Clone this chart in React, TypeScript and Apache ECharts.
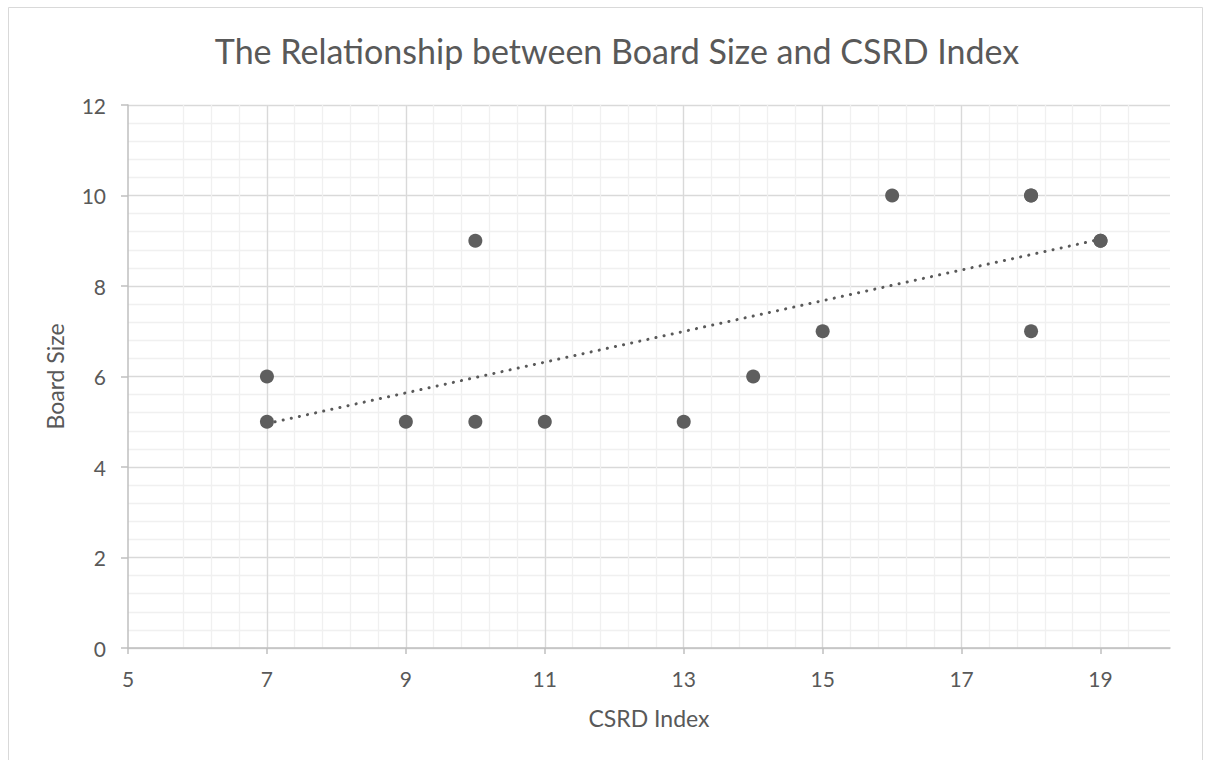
import React, { useEffect, useRef } from "react";
import * as echarts from "echarts";

const TITLE = "The Relationship between Board Size and CSRD Index";
const X_NAME = "CSRD Index";
const Y_NAME = "Board Size";
const csrdIndex = [7, 7, 9, 10, 10, 11, 13, 14, 15, 16, 18, 18, 18, 19, 19];
const boardSize = [6, 5, 5, 9, 5, 5, 5, 6, 7, 10, 10, 10, 7, 9, 9];
const xTicks = [5, 7, 9, 11, 13, 15, 17, 19];
const X_MIN = 5;
const X_MAX = 20;
const Y_MIN = 0;
const Y_MAX = 12;
const Y_STEP = 2;
const MINOR_STEP = 0.4;

function regression(xs: number[], ys: number[]) {
  const n = xs.length;
  const mx = xs.reduce((a, b) => a + b, 0) / n;
  const my = ys.reduce((a, b) => a + b, 0) / n;
  let sxy = 0;
  let sxx = 0;
  for (let i = 0; i < n; i++) {
    sxy += (xs[i] - mx) * (ys[i] - my);
    sxx += (xs[i] - mx) * (xs[i] - mx);
  }
  const slope = sxy / sxx;
  return { slope, intercept: my - slope * mx };
}

export default function App() {
  const ref = useRef<HTMLDivElement>(null);
  useEffect(() => {
    if (!ref.current) return;
    const chart = echarts.init(ref.current, null, { renderer: "svg" });
    const { slope, intercept } = regression(csrdIndex, boardSize);
    const lo = Math.min(...csrdIndex);
    const hi = Math.max(...csrdIndex);
    const trend = [
      [lo, intercept + slope * lo],
      [hi, intercept + slope * hi],
    ];
    const minorX: number[] = [];
    for (let k = 1; X_MIN + k * MINOR_STEP < X_MAX - 1e-6; k++) {
      const v = Math.round((X_MIN + k * MINOR_STEP) * 10) / 10;
      minorX.push(v);
    }
    const font = "Lato, 'Open Sans', sans-serif";
    const textColor = "#595959";
    chart.setOption({
      animation: false,
      backgroundColor: "#ffffff",
      title: {
        text: TITLE,
        left: 612,
        textAlign: "center",
        top: 28,
        textStyle: { fontFamily: font, fontSize: 34, fontWeight: "normal", color: textColor },
      },
      graphic: [
        {
          type: "rect",
          shape: { x: 8.5, y: 7.5, width: 1194, height: 800 },
          style: { fill: "none", stroke: "#d9d9d9", lineWidth: 1 },
          silent: true,
          z: -10,
        },
      ],
      grid: { left: 128, right: 36, top: 105, bottom: 112, containLabel: false },
      xAxis: [
        {
          type: "value",
          min: X_MIN,
          max: X_MAX,
          name: X_NAME,
          nameLocation: "middle",
          nameGap: 58,
          nameTextStyle: { fontFamily: font, fontSize: 23, color: textColor },
          axisLine: { show: true, onZero: false, lineStyle: { color: "#bfbfbf", width: 1.5 } },
          axisTick: { show: true, length: 6, customValues: xTicks, lineStyle: { color: "#bfbfbf", width: 1.5 } },
          axisLabel: {
            customValues: xTicks,
            margin: 20,
            fontFamily: font,
            fontSize: 21,
            color: textColor,
          },
          splitLine: { show: true, showMinLine: false, showMaxLine: false, lineStyle: { color: "#d9d9d9", width: 1.3 } },
          z: 2,
        },
        {
          type: "value",
          min: X_MIN,
          max: X_MAX,
          position: "bottom",
          axisLine: { show: false },
          axisTick: { show: false, customValues: minorX },
          axisLabel: { show: false, customValues: minorX },
          splitLine: { show: true, showMinLine: false, showMaxLine: false, lineStyle: { color: "#f0f0f0", width: 1.3 } },
          z: 1,
        },
      ],
      yAxis: {
        type: "value",
        min: Y_MIN,
        max: Y_MAX,
        interval: Y_STEP,
        name: Y_NAME,
        nameLocation: "middle",
        nameGap: 62,
        nameTextStyle: { fontFamily: font, fontSize: 23, color: textColor },
        axisLine: { show: true, lineStyle: { color: "#bfbfbf", width: 1.5 } },
        axisTick: { show: true, length: 7, lineStyle: { color: "#bfbfbf", width: 1.5 } },
        axisLabel: { margin: 22, fontFamily: font, fontSize: 21, color: textColor },
        splitLine: { show: true, lineStyle: { color: "#d9d9d9", width: 1.3 } },
        minorTick: { show: false, splitNumber: 5 },
        minorSplitLine: { show: true, lineStyle: { color: "#f0f0f0", width: 1.3 } },
      },
      series: [
        {
          type: "line",
          data: trend,
          showSymbol: false,
          symbol: "none",
          lineStyle: { color: "#595959", width: 3, type: [0.1, 8.2], cap: "round" },
          z: 3,
        },
        {
          type: "scatter",
          data: csrdIndex.map((x, i) => [x, boardSize[i]]),
          symbol: "circle",
          symbolSize: 14,
          itemStyle: { color: "#5e5e5e", opacity: 1 },
          z: 4,
        },
      ],
    });
    return () => chart.dispose();
  }, []);
  return (
    <div
      ref={ref}
      style={{ position: "absolute", left: 0, top: 0, width: 1206, height: 760 }}
    />
  );
}
